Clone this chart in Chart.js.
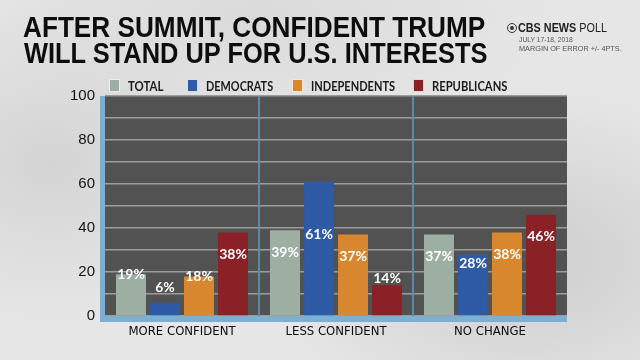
<!DOCTYPE html>
<html><head><meta charset="utf-8">
<script src="https://cdn.jsdelivr.net/npm/chart.js@4.4.1/dist/chart.umd.min.js"></script>
<style>
html,body{margin:0;padding:0;width:640px;height:360px;overflow:hidden;}
body{position:relative;background:
 radial-gradient(ellipse 260px 170px at 82% 72%, #cdcdcd, rgba(205,205,205,0)),
 radial-gradient(ellipse 200px 160px at 8% 45%, #d4d4d4, rgba(212,212,212,0)),
 radial-gradient(ellipse 300px 120px at 40% 5%, #dadada, rgba(218,218,218,0)),
 #e6e6e6;
 font-family:"Liberation Sans",Arial,sans-serif;}
#c{position:absolute;left:0;top:0;}
.t{position:absolute;white-space:nowrap;transform-origin:0 0;line-height:1;display:inline-block;}
.title{font-weight:bold;font-size:29px;color:#0d0d0d;}
.leg{font-size:13px;color:#1a1a1a;font-family:Lato,"Liberation Sans",sans-serif;font-weight:bold;}
.box{position:absolute;width:9px;height:11px;border:1px solid rgba(255,255,255,0.8);}
</style></head>
<body>
<canvas id="c" width="640" height="360"></canvas>
<div class="t title" data-w="462" style="left:23px;top:13px;">AFTER SUMMIT, CONFIDENT TRUMP</div>
<div class="t title" data-w="463" style="left:24px;top:39px;">WILL STAND UP FOR U.S. INTERESTS</div>
<div style="position:absolute;left:507px;top:23px;width:8px;height:8px;border:1.5px solid #333;border-radius:50%;"></div>
<div style="position:absolute;left:510px;top:26px;width:4px;height:4px;background:#333;border-radius:50%;"></div>
<div class="t" data-w="89" style="left:518px;top:21px;font-size:13px;color:#222;"><b>CBS NEWS</b> POLL</div>
<div class="t" data-w="54" style="left:519px;top:36px;font-size:8px;color:#555;">JULY 17-18, 2018</div>
<div class="t" data-w="103" style="left:519px;top:45px;font-size:8px;color:#555;">MARGIN OF ERROR +/- 4PTS.</div>
<div id="legend"></div>
<script>
const categories = ["MORE CONFIDENT", "LESS CONFIDENT", "NO CHANGE"];
const seriesNames = ["TOTAL", "DEMOCRATS", "INDEPENDENTS", "REPUBLICANS"];
const totalValues = [19, 39, 37];
const democratValues = [6, 61, 28];
const independentValues = [18, 37, 38];
const republicanValues = [38, 14, 46];
const yTickLabels = [0, 20, 40, 60, 80, 100];

const colors = ["#9dafa3", "#2e5aa6", "#d8872f", "#8a2126"];
const legendX = [109, 187, 292, 413];
const legendW = [35, 67, 84, 75];

const leg = document.getElementById('legend');
seriesNames.forEach((n, i) => {
  const b = document.createElement('div');
  b.className = 'box';
  b.style.left = legendX[i] + 'px'; b.style.top = '79px'; b.style.background = colors[i];
  leg.appendChild(b);
  const t = document.createElement('div');
  t.className = 't leg'; t.textContent = n; t.dataset.w = legendW[i];
  t.style.left = (legendX[i] + 19) + 'px'; t.style.top = '80px';
  leg.appendChild(t);
});
document.querySelectorAll('.t[data-w]').forEach(el => {
  const w = el.offsetWidth;
  el.style.transform = 'scaleX(' + (parseFloat(el.dataset.w) / w) + ')';
});

function labelAnchor(v) {
  if (v >= 30) return Math.min(v - 10, 37);
  if (v >= 25) return v - 4;
  if (v >= 15) return v;
  return Math.max(v + 3, 13);
}

const framePlugin = {
  id: 'frame',
  beforeDraw(chart) {
    const { ctx, chartArea: a } = chart;
    ctx.save();
    ctx.fillStyle = '#525252';
    ctx.fillRect(a.left, a.top, a.right - a.left, a.bottom - a.top);
    ctx.restore();
  },
  beforeDatasetsDraw(chart) {
    const { ctx, chartArea: a, scales: { x } } = chart;
    ctx.save();
    ctx.strokeStyle = '#5d89a8';
    ctx.lineWidth = 2;
    for (let i = 0; i < categories.length - 1; i++) {
      const px = (x.getPixelForTick(i) + x.getPixelForTick(i + 1)) / 2;
      ctx.beginPath(); ctx.moveTo(px, a.top); ctx.lineTo(px, a.bottom); ctx.stroke();
    }
    ctx.restore();
  },
  afterDatasetsDraw(chart) {
    const { ctx, chartArea: a, scales: { y } } = chart;
    ctx.save();
    ctx.fillStyle = '#7cafd0';
    ctx.fillRect(a.left - 5, a.top, 5, a.bottom - a.top + 6);
    ctx.fillRect(a.left - 5, a.bottom, a.right - a.left + 5, 6);
    ctx.fillStyle = '#ffffff';
    ctx.font = 'bold 14px Lato, "Liberation Sans", Arial, sans-serif';
    ctx.textAlign = 'center';
    ctx.textBaseline = 'middle';
    chart.data.datasets.forEach((ds, di) => {
      chart.getDatasetMeta(di).data.forEach((el, i) => {
        const v = ds.data[i];
        ctx.fillText(v + '%', el.x, y.getPixelForValue(labelAnchor(v)));
      });
    });
    ctx.restore();
  }
};

const seriesData = [totalValues, democratValues, independentValues, republicanValues];
new Chart(document.getElementById('c'), {
  type: 'bar',
  data: {
    labels: categories,
    datasets: seriesNames.map((n, i) => ({
      label: n, data: seriesData[i], backgroundColor: colors[i],
      categoryPercentage: 0.883, barPercentage: 0.882, borderWidth: 0
    }))
  },
  options: {
    responsive: false, animation: false,
    layout: { padding: { top: 96, right: 73, left: 0, bottom: 0 } },
    plugins: { legend: { display: false }, tooltip: { enabled: false } },
    scales: {
      x: {
        grid: { display: false, drawTicks: false },
        border: { display: false },
        ticks: { color: '#0a0a0a', padding: 8, font: { family: '"DejaVu Sans Condensed",sans-serif', size: 13 } },
        afterFit(s) { s.height = 44; }
      },
      y: {
        min: 0, max: 100,
        grid: { color: '#9c9c9c', lineWidth: 1.5, drawTicks: false },
        border: { display: false },
        ticks: {
          stepSize: 10, padding: 10, color: '#141414',
          font: { family: '"Liberation Sans",Arial,sans-serif', size: 15 },
          callback: v => yTickLabels.includes(v) ? String(v) : ''
        },
        afterFit(s) { s.width = 105; }
      }
    }
  },
  plugins: [framePlugin]
});
</script>
</body></html>
